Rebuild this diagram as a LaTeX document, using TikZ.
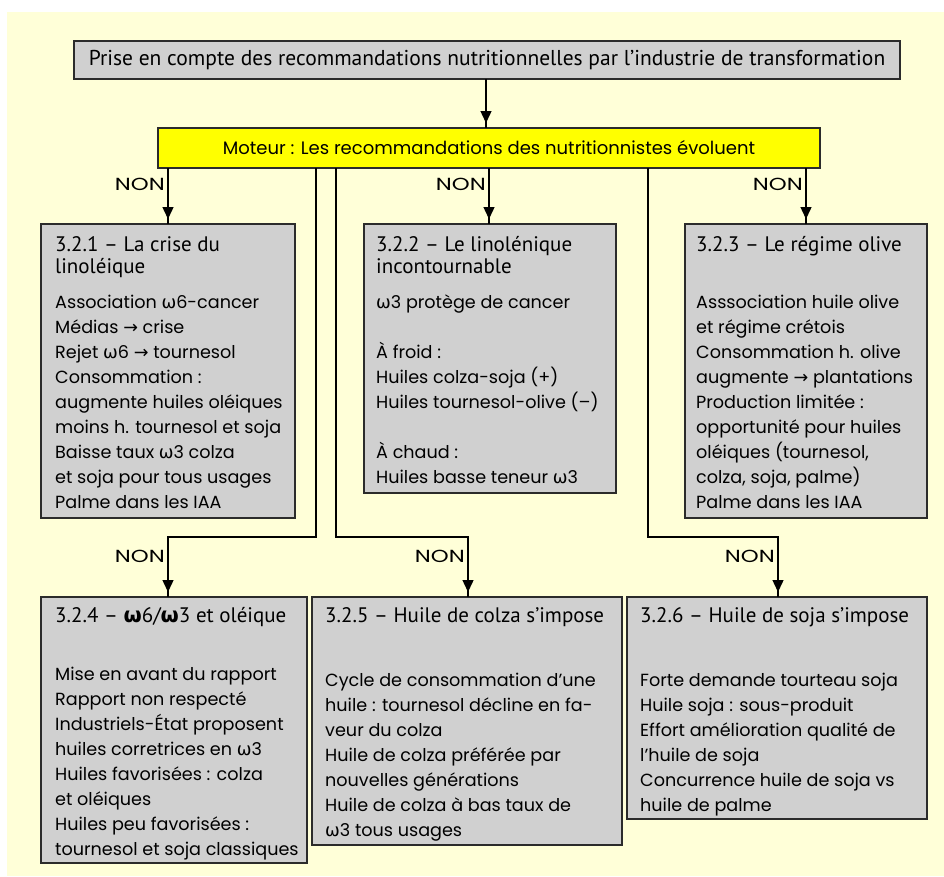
\documentclass[tikz,border=0pt]{standalone}
\usepackage{fontspec}
\usetikzlibrary{arrows.meta,decorations.markings}
\newfontfamily\bodyf{Poppins}
\newfontfamily\titf{PT Sans}
\newfontfamily\symf{DejaVu Sans}
\newcommand\om{{\symf ω}}
\newcommand\bom{{\symf\bfseries ω}}
\newcommand\rarr{{\symf →}}
\definecolor{bgyel}{HTML}{FFFFD8}
\definecolor{boxgray}{HTML}{D0D0D0}
\definecolor{edgec}{HTML}{2B2B2B}
\definecolor{motyel}{HTML}{FFFF00}
\tikzset{
  box/.style={draw=edgec, line width=1.8pt, fill=boxgray, anchor=north west, inner sep=0pt, outer sep=0pt},
  body/.style={anchor=base west, inner sep=0pt, font=\bodyf\fontsize{17.6}{25}\selectfont},
  tit/.style={anchor=base west, inner sep=0pt, font=\titf\fontsize{21}{22}\selectfont},
  nonlab/.style={anchor=base east, inner sep=0pt, font=\bodyf\fontsize{17.5}{20}\selectfont},
  conn/.style={draw=black, line width=1.4pt},
  arr/.style={postaction={decorate}, decoration={markings, mark=at position -5pt with {\arrow{Triangle[width=11pt,length=12pt]}}}}
}
\newcommand\nontext{\scalebox{1.3}[1]{NON}}
\begin{document}
\begin{tikzpicture}[x=1pt,y=-1pt]
\useasboundingbox (0,0) rectangle (944,876);
\fill[bgyel] (7,12) rectangle (944,876);

% top boxes
\node[box, minimum width=826pt, minimum height=38pt, font=\titf\fontsize{21.5}{22}\selectfont] (top) at (74,41) {Prise en compte des recommandations nutritionnelles par l’industrie de transformation};
\node[box, fill=motyel, minimum width=662pt, minimum height=40pt, font=\bodyf\fontsize{18}{20}\selectfont] (mot) at (158,128) {Moteur : Les recommandations des nutritionnistes évoluent};

% first row boxes
\node[box, minimum width=254pt, minimum height=294pt] (b1) at (41,224) {};
\node[box, minimum width=252pt, minimum height=269pt] (b2) at (364,224) {};
\node[box, minimum width=242pt, minimum height=294pt] (b3) at (685,224) {};
% second row boxes
\node[box, minimum width=266pt, minimum height=266pt] (b4) at (41,597) {};
\node[box, minimum width=310pt, minimum height=248pt] (b5) at (312,597) {};
\node[box, minimum width=300pt, minimum height=222pt] (b6) at (627,597) {};

% texts box 1
\node[tit] (t1) at (55,251) {\vtop{\hbox{3.2.1 – La crise du}\hbox{linoléique}}};
\node[body] (x1) at (55,308) {\vtop{%
\hbox{Association \om6-cancer}
\hbox{Médias \rarr\ crise}
\hbox{Rejet \om6 \rarr\ tournesol}
\hbox{Consommation :}
\hbox{augmente huiles oléiques}
\hbox{moins h. tournesol et soja}
\hbox{Baisse taux \om3 colza}
\hbox{et soja pour tous usages}
\hbox{Palme dans les IAA}}};

% texts box 2
\node[tit] (t2) at (376,251) {\vtop{\hbox{3.2.2 – Le linolénique}\hbox{incontournable}}};
\node[body] (x2) at (376,308) {\vtop{%
\hbox{\om3 protège de cancer}
\hbox{}
\hbox{À froid :}
\hbox{Huiles colza-soja (+)}
\hbox{Huiles tournesol-olive (–)}
\hbox{}
\hbox{À chaud :}
\hbox{Huiles basse teneur \om3}}};

% texts box 3
\node[tit] (t3) at (696,251) {3.2.3 – Le régime olive};
\node[body] (x3) at (696,308) {\vtop{%
\hbox{Asssociation huile olive}
\hbox{et régime crétois}
\hbox{Consommation h. olive}
\hbox{augmente \rarr\ plantations}
\hbox{Production limitée :}
\hbox{opportunité pour huiles}
\hbox{oléiques (tournesol,}
\hbox{colza, soja, palme)}
\hbox{Palme dans les IAA}}};

% texts box 4
\node[tit] (t4) at (55,622) {3.2.4 – \bom6/\bom3 et oléique};
\node[body] (x4) at (55,680) {\vtop{%
\hbox{Mise en avant du rapport}
\hbox{Rapport non respecté}
\hbox{Industriels-État proposent}
\hbox{huiles corretrices en \om3}
\hbox{Huiles favorisées : colza}
\hbox{et oléiques}
\hbox{Huiles peu favorisées :}
\hbox{tournesol et soja classiques}}};

% texts box 5
\node[tit] (t5) at (325,622) {3.2.5 – Huile de colza s’impose};
\node[body] (x5) at (325,686) {\vtop{%
\hbox{Cycle de consommation d’une}
\hbox{huile : tournesol décline en fa-}
\hbox{veur du colza}
\hbox{Huile de colza préférée par}
\hbox{nouvelles générations}
\hbox{Huile de colza à bas taux de}
\hbox{\om3 tous usages}}};

% texts box 6
\node[tit] (t6) at (640,622) {3.2.6 – Huile de soja s’impose};
\node[body] (x6) at (640,686) {\vtop{%
\hbox{Forte demande tourteau soja}
\hbox{Huile soja : sous-produit}
\hbox{Effort amélioration qualité de}
\hbox{l’huile de soja}
\hbox{Concurrence huile de soja vs}
\hbox{huile de palme}}};

% connector coordinates
\coordinate (c0) at (486,0);
\coordinate (c1) at (168,0);
\coordinate (c2) at (489,0);
\coordinate (c3) at (806,0);
\coordinate (v4) at (316,0);
\coordinate (v5) at (336,0);
\coordinate (v6) at (648,0);
\coordinate (j4) at (168,537);
\coordinate (j5) at (468,537);
\coordinate (j6) at (778,537);

% connectors
\draw[conn,arr] (top.south -| c0) -- (mot.north -| c0);
\draw[conn,arr] (mot.south -| c1) -- (b1.north -| c1);
\draw[conn,arr] (mot.south -| c2) -- (b2.north -| c2);
\draw[conn,arr] (mot.south -| c3) -- (b3.north -| c3);
\draw[conn,arr] (mot.south -| v4) |- (j4) -- (b4.north -| j4);
\draw[conn,arr] (mot.south -| v5) |- (j5) -- (b5.north -| j5);
\draw[conn,arr] (mot.south -| v6) |- (j6) -- (b6.north -| j6);

% labels
\node[nonlab] (n1) at (165,190) {\nontext};
\node[nonlab] (n2) at (486,190) {\nontext};
\node[nonlab] (n3) at (803,190) {\nontext};
\node[nonlab] (n4) at (165,562) {\nontext};
\node[nonlab] (n5) at (465,562) {\nontext};
\node[nonlab] (n6) at (775,562) {\nontext};
\end{tikzpicture}
\end{document}
